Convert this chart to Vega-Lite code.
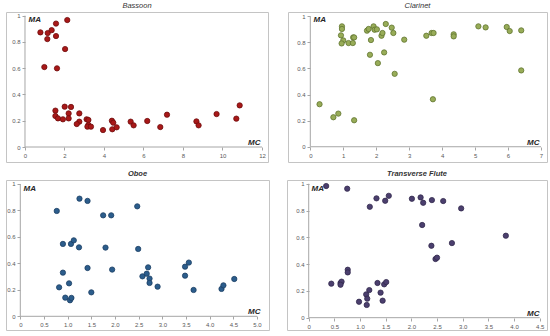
{
  "$schema": "https://vega.github.io/schema/vega-lite/v6.json",
  "background": "white",
  "padding": {"left": 5, "top": 1, "right": 0, "bottom": 0},
  "config": {
    "view": {"stroke": "#C4C4C4", "strokeWidth": 1},
    "axis": {"domain": false, "grid": false, "tickCount": 30, "tickColor": "#A6A6A6", "tickSize": 3, "labelFontSize": 6, "labelColor": "#595959", "labelFont": "Liberation Sans", "labelPadding": 2, "labelFlush": false, "labelOverlap": false, "labelBound": false, "titleFont": "Liberation Sans", "titleFontSize": 8, "titleFontStyle": "italic", "titleFontWeight": "bold", "titleColor": "#262626"},
    "axisY": {"titleAngle": 0, "titleAlign": "left", "titleBaseline": "middle", "titleX": 3, "titleY": 7},
    "axisX": {"titleAlign": "right", "titleBaseline": "bottom", "titleY": -1},
    "title": {"font": "Liberation Sans", "fontSize": 7.5, "fontStyle": "italic", "fontWeight": "bold", "color": "#333333", "offset": 3}
  },
  "vconcat": [
    {
      "hconcat": [
        {
          "title": {"text": "Bassoon", "fontWeight": "normal"},
          "width": 262, "height": 150,
          "layer": [
            {
              "data": {"values": [
                {"MC": 0.78, "MA": 0.873}, {"MC": 1.15, "MA": 0.868}, {"MC": 1.35, "MA": 0.89}, {"MC": 1.57, "MA": 0.94},
                {"MC": 2.14, "MA": 0.967}, {"MC": 1.13, "MA": 0.822}, {"MC": 1.57, "MA": 0.845}, {"MC": 2.03, "MA": 0.746},
                {"MC": 0.98, "MA": 0.609}, {"MC": 1.62, "MA": 0.599}, {"MC": 2.01, "MA": 0.307}, {"MC": 2.33, "MA": 0.305},
                {"MC": 1.54, "MA": 0.277}, {"MC": 1.54, "MA": 0.236}, {"MC": 1.67, "MA": 0.218}, {"MC": 1.92, "MA": 0.211},
                {"MC": 2.21, "MA": 0.256}, {"MC": 2.21, "MA": 0.218}, {"MC": 2.75, "MA": 0.256}, {"MC": 2.75, "MA": 0.193},
                {"MC": 2.62, "MA": 0.175}, {"MC": 3.12, "MA": 0.211}, {"MC": 3.21, "MA": 0.206}, {"MC": 3.21, "MA": 0.168},
                {"MC": 3.16, "MA": 0.155}, {"MC": 3.34, "MA": 0.155}, {"MC": 3.95, "MA": 0.129}, {"MC": 4.40, "MA": 0.2},
                {"MC": 4.47, "MA": 0.185}, {"MC": 4.42, "MA": 0.135}, {"MC": 4.64, "MA": 0.15}, {"MC": 5.35, "MA": 0.193},
                {"MC": 5.50, "MA": 0.165}, {"MC": 6.19, "MA": 0.198}, {"MC": 6.85, "MA": 0.152}, {"MC": 7.19, "MA": 0.246},
                {"MC": 8.68, "MA": 0.195}, {"MC": 8.79, "MA": 0.165}, {"MC": 9.70, "MA": 0.251}, {"MC": 10.70, "MA": 0.216},
                {"MC": 10.87, "MA": 0.317}
              ]},
              "mark": {"type": "point", "filled": true, "size": 28, "fill": "#A81818", "stroke": "#6E0C0C", "strokeWidth": 0.8, "opacity": 1},
              "encoding": {
                "x": {"field": "MC", "type": "quantitative", "scale": {"domain": [-0.962, 12.304], "nice": false, "zero": false},
                      "axis": {"values": [0, 2, 4, 6, 8, 10, 12], "tickCount": 30, "format": "d", "offset": -15, "title": "MC", "titleX": 254}},
                "y": {"field": "MA", "type": "quantitative", "scale": {"domain": [-0.1142, 1.0282], "nice": false, "zero": false},
                      "axis": {"values": [0, 0.2, 0.4, 0.6, 0.8, 1], "tickCount": 30, "format": "~g", "offset": -19, "title": "MA"}}
              }
            },
            {"data": {"values": [{}]}, "mark": {"type": "rule", "color": "#A6A6A6", "strokeWidth": 1},
             "encoding": {"x": {"datum": 0, "type": "quantitative"}, "x2": {"datum": 12}, "y": {"datum": 0, "type": "quantitative"}}},
            {"data": {"values": [{}]}, "mark": {"type": "rule", "color": "#A6A6A6", "strokeWidth": 1},
             "encoding": {"x": {"datum": 0, "type": "quantitative"}, "y": {"datum": 0, "type": "quantitative"}, "y2": {"datum": 1}}}
          ]
        },
        {
          "title": {"text": "Clarinet", "fontWeight": "normal"},
          "width": 259, "height": 150,
          "layer": [
            {
              "data": {"values": [
                {"MC": 0.28, "MA": 0.326}, {"MC": 0.70, "MA": 0.226}, {"MC": 0.85, "MA": 0.254}, {"MC": 1.33, "MA": 0.203},
                {"MC": 0.96, "MA": 0.923}, {"MC": 0.96, "MA": 0.903}, {"MC": 0.93, "MA": 0.854}, {"MC": 1.0, "MA": 0.815},
                {"MC": 0.95, "MA": 0.792}, {"MC": 1.16, "MA": 0.795}, {"MC": 1.29, "MA": 0.795}, {"MC": 1.30, "MA": 0.838},
                {"MC": 1.33, "MA": 0.838}, {"MC": 1.72, "MA": 0.89}, {"MC": 1.77, "MA": 0.903}, {"MC": 1.84, "MA": 0.818},
                {"MC": 1.81, "MA": 0.705}, {"MC": 1.92, "MA": 0.923}, {"MC": 1.95, "MA": 0.897}, {"MC": 2.02, "MA": 0.9},
                {"MC": 2.05, "MA": 0.641}, {"MC": 2.16, "MA": 0.851}, {"MC": 2.19, "MA": 0.872}, {"MC": 2.24, "MA": 0.723},
                {"MC": 2.29, "MA": 0.941}, {"MC": 2.47, "MA": 0.913}, {"MC": 2.52, "MA": 0.872}, {"MC": 2.56, "MA": 0.559},
                {"MC": 2.85, "MA": 0.821}, {"MC": 3.52, "MA": 0.851}, {"MC": 3.68, "MA": 0.872}, {"MC": 3.74, "MA": 0.872},
                {"MC": 3.72, "MA": 0.364}, {"MC": 4.35, "MA": 0.862}, {"MC": 4.35, "MA": 0.846}, {"MC": 5.10, "MA": 0.923},
                {"MC": 5.32, "MA": 0.915}, {"MC": 5.96, "MA": 0.918}, {"MC": 6.05, "MA": 0.887}, {"MC": 6.40, "MA": 0.892},
                {"MC": 6.40, "MA": 0.585}
              ]},
              "mark": {"type": "point", "filled": true, "size": 28, "fill": "#98AC58", "stroke": "#617530", "strokeWidth": 0.8, "opacity": 1},
              "encoding": {
                "x": {"field": "MC", "type": "quantitative", "scale": {"domain": [-0.677, 7.182], "nice": false, "zero": false},
                      "axis": {"values": [0, 1, 2, 3, 4, 5, 6, 7], "tickCount": 30, "format": "d", "offset": -15, "title": "MC", "titleX": 251}},
                "y": {"field": "MA", "type": "quantitative", "scale": {"domain": [-0.117, 1.033], "nice": false, "zero": false},
                      "axis": {"values": [0, 0.2, 0.4, 0.6, 0.8, 1], "tickCount": 30, "format": "~g", "offset": -22, "title": "MA"}}
              }
            },
            {"data": {"values": [{}]}, "mark": {"type": "rule", "color": "#A6A6A6", "strokeWidth": 1},
             "encoding": {"x": {"datum": 0, "type": "quantitative"}, "x2": {"datum": 7}, "y": {"datum": 0, "type": "quantitative"}}},
            {"data": {"values": [{}]}, "mark": {"type": "rule", "color": "#A6A6A6", "strokeWidth": 1},
             "encoding": {"x": {"datum": 0, "type": "quantitative"}, "y": {"datum": 0, "type": "quantitative"}, "y2": {"datum": 1}}}
          ]
        }
      ],
      "spacing": 18
    },
    {
      "hconcat": [
        {
          "title": {"text": "Oboe"},
          "width": 263, "height": 150,
          "layer": [
            {
              "data": {"values": [
                {"MC": 0.77, "MA": 0.796}, {"MC": 0.82, "MA": 0.219}, {"MC": 0.90, "MA": 0.547}, {"MC": 0.90, "MA": 0.330},
                {"MC": 0.95, "MA": 0.141}, {"MC": 1.03, "MA": 0.249}, {"MC": 1.05, "MA": 0.121}, {"MC": 1.08, "MA": 0.139},
                {"MC": 1.07, "MA": 0.547}, {"MC": 1.13, "MA": 0.574}, {"MC": 1.24, "MA": 0.521}, {"MC": 1.25, "MA": 0.889},
                {"MC": 1.42, "MA": 0.872}, {"MC": 1.42, "MA": 0.365}, {"MC": 1.50, "MA": 0.181}, {"MC": 1.75, "MA": 0.763},
                {"MC": 1.92, "MA": 0.763}, {"MC": 1.80, "MA": 0.519}, {"MC": 1.94, "MA": 0.353}, {"MC": 2.47, "MA": 0.831},
                {"MC": 2.49, "MA": 0.509}, {"MC": 2.58, "MA": 0.302}, {"MC": 2.67, "MA": 0.322}, {"MC": 2.70, "MA": 0.370},
                {"MC": 2.73, "MA": 0.285}, {"MC": 2.73, "MA": 0.252}, {"MC": 2.90, "MA": 0.224}, {"MC": 3.48, "MA": 0.375},
                {"MC": 3.56, "MA": 0.406}, {"MC": 3.48, "MA": 0.307}, {"MC": 3.66, "MA": 0.199}, {"MC": 4.25, "MA": 0.207},
                {"MC": 4.29, "MA": 0.234}, {"MC": 4.52, "MA": 0.282}
              ]},
              "mark": {"type": "point", "filled": true, "size": 28, "fill": "#2C5D8C", "stroke": "#1C3F63", "strokeWidth": 0.8, "opacity": 1},
              "encoding": {
                "x": {"field": "MC", "type": "quantitative", "scale": {"domain": [-0.302, 5.253], "nice": false, "zero": false},
                      "axis": {"values": [0, 0.5, 1, 1.5, 2, 2.5, 3, 3.5, 4, 4.5, 5], "tickCount": 30, "labelExpr": "datum.value == 0 ? '0' : format(datum.value, '.1f')", "offset": -14, "title": "MC", "titleX": 254}},
                "y": {"field": "MA", "type": "quantitative", "scale": {"domain": [-0.1035, 1.030], "nice": false, "zero": false},
                      "axis": {"values": [0, 0.2, 0.4, 0.6, 0.8, 1], "tickCount": 30, "format": "~g", "offset": -14, "title": "MA", "titleY": 8}}
              }
            },
            {"data": {"values": [{}]}, "mark": {"type": "rule", "color": "#A6A6A6", "strokeWidth": 1},
             "encoding": {"x": {"datum": 0, "type": "quantitative"}, "x2": {"datum": 5}, "y": {"datum": 0, "type": "quantitative"}}},
            {"data": {"values": [{}]}, "mark": {"type": "rule", "color": "#A6A6A6", "strokeWidth": 1},
             "encoding": {"x": {"datum": 0, "type": "quantitative"}, "y": {"datum": 0, "type": "quantitative"}, "y2": {"datum": 1}}}
          ]
        },
        {
          "title": {"text": "Transverse Flute"},
          "width": 260, "height": 150,
          "layer": [
            {
              "data": {"values": [
                {"MC": 0.34, "MA": 0.983}, {"MC": 0.75, "MA": 0.963}, {"MC": 0.44, "MA": 0.254}, {"MC": 0.62, "MA": 0.259},
                {"MC": 0.64, "MA": 0.269}, {"MC": 0.62, "MA": 0.246}, {"MC": 0.76, "MA": 0.358}, {"MC": 0.76, "MA": 0.338},
                {"MC": 0.98, "MA": 0.119}, {"MC": 1.12, "MA": 0.174}, {"MC": 1.14, "MA": 0.142}, {"MC": 1.13, "MA": 0.095},
                {"MC": 1.18, "MA": 0.206}, {"MC": 1.19, "MA": 0.828}, {"MC": 1.34, "MA": 0.259}, {"MC": 1.32, "MA": 0.891},
                {"MC": 1.40, "MA": 0.187}, {"MC": 1.44, "MA": 0.127}, {"MC": 1.47, "MA": 0.249}, {"MC": 1.51, "MA": 0.266},
                {"MC": 1.49, "MA": 0.873}, {"MC": 1.56, "MA": 0.910}, {"MC": 2.01, "MA": 0.888}, {"MC": 2.18, "MA": 0.898},
                {"MC": 2.23, "MA": 0.858}, {"MC": 2.21, "MA": 0.692}, {"MC": 2.40, "MA": 0.878}, {"MC": 2.39, "MA": 0.537},
                {"MC": 2.47, "MA": 0.438}, {"MC": 2.50, "MA": 0.448}, {"MC": 2.62, "MA": 0.871}, {"MC": 2.79, "MA": 0.557},
                {"MC": 2.97, "MA": 0.816}, {"MC": 3.84, "MA": 0.612}
              ]},
              "mark": {"type": "point", "filled": true, "size": 28, "fill": "#4B3F6E", "stroke": "#32294D", "strokeWidth": 0.8, "opacity": 1},
              "encoding": {
                "x": {"field": "MC", "type": "quantitative", "scale": {"domain": [-0.423, 4.642], "nice": false, "zero": false},
                      "axis": {"values": [0, 0.5, 1, 1.5, 2, 2.5, 3, 3.5, 4, 4.5], "tickCount": 30, "labelExpr": "datum.value == 0 ? '0' : format(datum.value, '.1f')", "offset": -12, "title": "MC", "titleX": 252}},
                "y": {"field": "MA", "type": "quantitative", "scale": {"domain": [-0.092, 1.028], "nice": false, "zero": false},
                      "axis": {"values": [0, 0.2, 0.4, 0.6, 0.8, 1], "tickCount": 30, "format": "~g", "offset": -22, "title": "MA", "titleX": 2, "titleY": 8}}
              }
            },
            {"data": {"values": [{}]}, "mark": {"type": "rule", "color": "#A6A6A6", "strokeWidth": 1},
             "encoding": {"x": {"datum": 0, "type": "quantitative"}, "x2": {"datum": 4.5}, "y": {"datum": 0, "type": "quantitative"}}},
            {"data": {"values": [{}]}, "mark": {"type": "rule", "color": "#A6A6A6", "strokeWidth": 1},
             "encoding": {"x": {"datum": 0, "type": "quantitative"}, "y": {"datum": 0, "type": "quantitative"}, "y2": {"datum": 1}}}
          ]
        }
      ],
      "spacing": 16
    }
  ],
  "spacing": 6
}
